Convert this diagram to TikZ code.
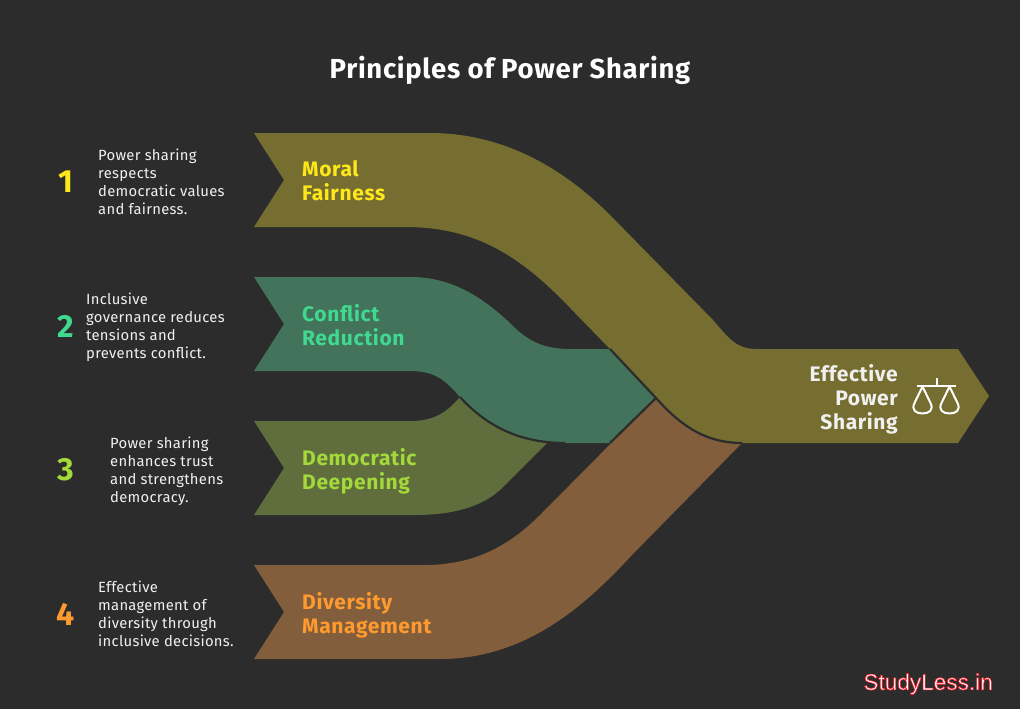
\documentclass[tikz,border=0pt]{standalone}
\usepackage{fontspec}
\setmainfont{Fira Sans}
\newfontfamily\wmfont{Liberation Sans}
\definecolor{bg}{HTML}{2C2C2C}
\definecolor{olivefill}{HTML}{756E30}
\definecolor{greenfill}{HTML}{43735A}
\definecolor{limefill}{HTML}{5F6E3C}
\definecolor{brownfill}{HTML}{835E3C}
\definecolor{ctyellow}{HTML}{FFE81A}
\definecolor{ctgreen}{HTML}{3FD98F}
\definecolor{ctlime}{HTML}{A3D93A}
\definecolor{ctorange}{HTML}{FF9A2E}
\definecolor{txt}{HTML}{F0F0F0}
\tikzset{
 desc/.style={anchor=west,align=left,inner sep=0pt,text=txt,font=\fontsize{14.8}{18}\selectfont\addfontfeature{LetterSpace=2}},
 label/.style={anchor=west,align=left,inner sep=0pt,font=\fontsize{21}{24}\selectfont\bfseries\addfontfeature{LetterSpace=3}},
 num/.style={anchor=center,inner sep=0pt,font=\fontsize{32}{32}\selectfont\bfseries},
 edgeline/.style={draw=bg,line width=2.2pt},
 icon/.style={draw=white,line width=2pt}
}
\begin{document}
\begin{tikzpicture}[x=1pt,y=-1pt]
\fill[bg] (0,0) rectangle (1020,709);
\useasboundingbox (0,0) rectangle (1020,709);
% ribbons
\fill[brownfill] (254,565) -- (425,565) .. controls (475,565) and (510,545) .. (540,515) -- (656,398) .. controls (680,425) and (705,443) .. (742,443) -- (632,555) .. controls (590,600) and (530,659) .. (440,659) -- (254,659) -- (284,612) -- cycle;
\fill[limefill] (254,421) -- (410,421) .. controls (435,421) and (447,412) .. (460,397) .. controls (480,420) and (510,436) .. (547,443) -- (500,490) .. controls (480,508) and (450,515) .. (415,515) -- (254,515) -- (284,468) -- cycle;
\fill[greenfill] (254,277) -- (410,277) .. controls (450,277) and (480,295) .. (510,323) .. controls (528,342) and (545,349) .. (570,349) -- (610,349) -- (656,398) -- (610,443) -- (565,443) .. controls (525,443) and (490,430) .. (460,397) .. controls (445,380) and (435,371) .. (410,371) -- (254,371) -- (284,324) -- cycle;
\fill[olivefill] (254,133) -- (430,133) .. controls (500,133) and (560,165) .. (610,215) -- (713,320) .. controls (730,340) and (737,349) .. (757,349) -- (958,349) -- (989,396) -- (958,443) -- (742,443) .. controls (705,443) and (680,425) .. (656,398) -- (610,349) -- (575,313) .. controls (525,260) and (480,227) .. (405,227) -- (254,227) -- (284,180) -- cycle;
% separators
\draw[edgeline] (460,397) .. controls (490,430) and (525,443) .. (565,443);
\draw[edgeline] (610,349) -- (656,398) .. controls (680,425) and (705,443) .. (742,443);
\draw[edgeline] (610,443) -- (656,398);
% title
\node[inner sep=0pt,text=white,font=\fontsize{27.5}{30}\selectfont\bfseries\addfontfeature{LetterSpace=2.5}] (title) at (510,70) {Principles of Power Sharing};
% numbers
\node[num,text=ctyellow] (n1) at (66,182) {1};
\node[num,text=ctgreen] (n2) at (66,326) {2};
\node[num,text=ctlime] (n3) at (66,470) {3};
\node[num,text=ctorange] (n4) at (66,614) {4};
% descriptions
\node[desc] (d1) at (98,182) {Power sharing\\respects\\democratic values\\and fairness.};
\node[desc] (d2) at (86,327) {Inclusive\\governance reduces\\tensions and\\prevents conflict.};
\node[desc] (d3) at (110,471) {Power sharing\\enhances trust\\and strengthens\\democracy.};
\node[desc] (d4) at (98,614) {Effective\\management of\\diversity through\\inclusive decisions.};
% labels
\node[label,text=ctyellow] (l1) at (302,181) {Moral\\Fairness};
\node[label,text=ctgreen] (l2) at (302,325) {Conflict\\Reduction};
\node[label,text=ctlime] (l3) at (302,471) {Democratic\\Deepening};
\node[label,text=ctorange] (l4) at (302,615) {Diversity\\Management};
\node[anchor=east,align=right,inner sep=0pt,text=txt,font=\fontsize{21}{24}\selectfont\bfseries\addfontfeature{LetterSpace=3}] (l5) at (898,399) {Effective\\Power\\Sharing};
% scales icon
\draw[icon] (917,385.5) -- (956,385.5) (936.5,378) -- (936.5,385.5);
\draw[icon,line join=round] (922.5,386.5) -- (914.5,403) .. controls (911,410) and (916,413.5) .. (922.5,413.5) .. controls (929,413.5) and (934,410) .. (930.5,403) -- cycle;
\draw[icon,line join=round] (949.5,386.5) -- (941.5,403) .. controls (938,410) and (943,413.5) .. (949.5,413.5) .. controls (956,413.5) and (961,410) .. (957.5,403) -- cycle;
% watermark
\node[anchor=east,inner sep=0pt,font=\fontsize{22.6}{24}\selectfont\wmfont,text=white] (wm) at (993,684) {\special{pdf:code q 2 Tr 0.6 w 1 0.1 0.15 RG}StudyLess.in\special{pdf:code Q}};
\end{tikzpicture}
\end{document}
